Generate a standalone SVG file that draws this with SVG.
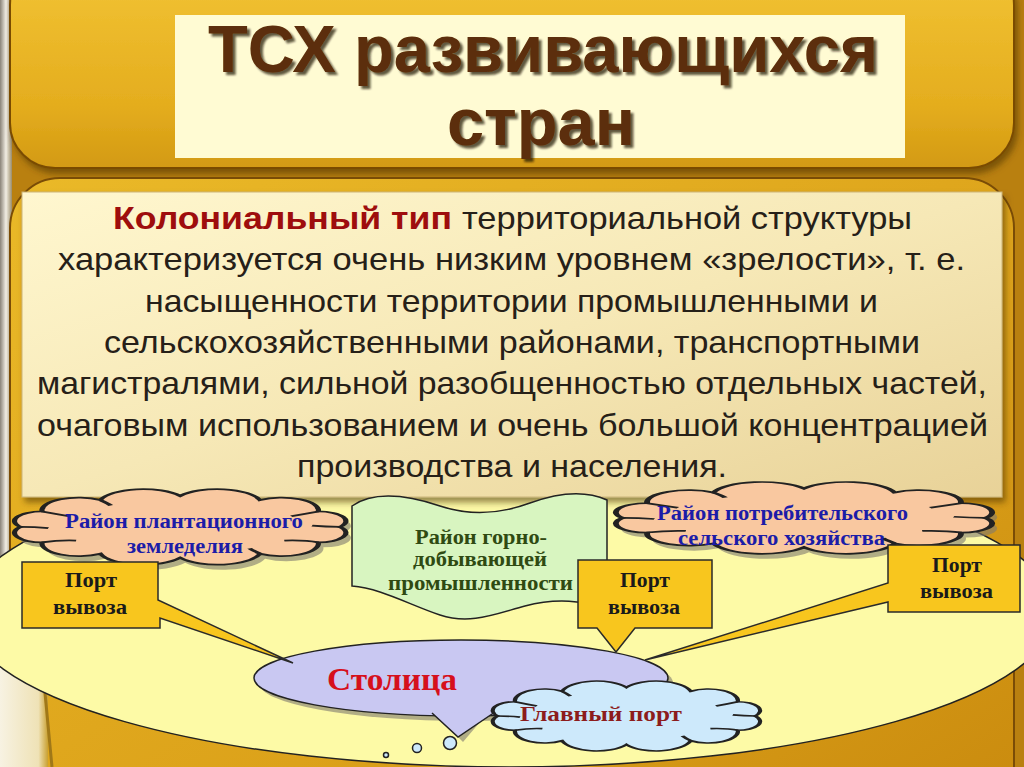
<svg xmlns="http://www.w3.org/2000/svg" xmlns:xlink="http://www.w3.org/1999/xlink" width="1024" height="767" viewBox="0 0 1024 767">
<defs>
<style>
.title{font-family:"Liberation Sans Narrow","Liberation Sans",Arial,sans-serif;font-weight:bold;font-size:66px}
.body{font-family:"Liberation Sans Narrow","Liberation Sans",Arial,sans-serif;font-size:32px;fill:#262018}
.ser{font-family:"Liberation Serif","Times New Roman",serif;font-weight:bold}
.blue{fill:#1c1ca8;font-size:20px}
.grn{fill:#2f4a12;font-size:20px}
.blk{fill:#1a1a1a;font-size:20px}
.ln{stroke:#222;stroke-width:1.5}
.cloudline{fill:none;stroke:#222;stroke-width:1.5;vector-effect:non-scaling-stroke}
.shadow{fill:#7f7a70;opacity:0.6}
.callout{fill:#f8c61e;stroke:#2a2a2a;stroke-width:1.5;stroke-linejoin:miter}
</style>
<linearGradient id="gold" x1="0" y1="0" x2="0" y2="1">
<stop offset="0" stop-color="#f3c536"/><stop offset="0.7" stop-color="#e4ad1e"/><stop offset="1" stop-color="#d39a12"/>
</linearGradient>
<linearGradient id="gold2" x1="0" y1="0" x2="1" y2="1">
<stop offset="0" stop-color="#eab928"/><stop offset="0.6" stop-color="#dca21a"/><stop offset="1" stop-color="#c98a0e"/>
</linearGradient>
<linearGradient id="metal" x1="0" y1="0" x2="1" y2="0">
<stop offset="0" stop-color="#8a8378"/><stop offset="0.5" stop-color="#f2eee4"/><stop offset="1" stop-color="#9a8c6a"/>
</linearGradient>
<linearGradient id="pale" x1="0" y1="0" x2="1" y2="0">
<stop offset="0" stop-color="#f7f2e2"/><stop offset="0.8" stop-color="#efe2b6"/><stop offset="1" stop-color="#c9a030"/>
</linearGradient>
<linearGradient id="box" x1="0" y1="0" x2="1" y2="1">
<stop offset="0" stop-color="#fff7cf"/><stop offset="0.5" stop-color="#f6e8b6"/><stop offset="1" stop-color="#e8d298"/>
</linearGradient>
<filter id="sh" x="-5%" y="-5%" width="110%" height="115%">
<feDropShadow dx="3" dy="5" stdDeviation="3" flood-color="#4a3000" flood-opacity="0.55"/>
</filter>
<filter id="tsh" x="-5%" y="-10%" width="110%" height="130%">
<feDropShadow dx="3" dy="3" stdDeviation="1.2" flood-color="#1e1000" flood-opacity="0.7"/>
</filter>
<path id="cloud" d="M4,30 A8,8 0 0 1 10.2,17 A10.6,10.6 0 0 1 27,7.5 A12.8,12.8 0 0 1 50,4 A12.8,12.8 0 0 1 73,7.5 A10.6,10.6 0 0 1 89.8,17 A8,8 0 0 1 96,30 A8,8 0 0 1 89.8,43 A10.6,10.6 0 0 1 73,52.5 A12.8,12.8 0 0 1 50,56 A12.8,12.8 0 0 1 27,52.5 A10.6,10.6 0 0 1 10.2,43 A8,8 0 0 1 4,30 Z"/>
<path id="cloudin" d="M10.2,17 Q14,19 18,21 M89.8,17 Q86,19 82,21 M89.8,43 Q86,41 80,41.5 M10.2,43 Q15,41 20,41.5 M27,7.5 Q29,10 30,12 M73,52.5 Q71,50 70,48 M4,30 Q8,30 12,31 M96,30 Q92,30 88,29"/>
</defs>

<g id="background">
<rect x="0" y="0" width="1024" height="767" fill="#b98010"/>
<rect x="0" y="0" width="12" height="767" fill="url(#metal)"/>
<rect x="10" y="-40" width="1004" height="208" rx="45" fill="url(#gold)" stroke="#7a4c06" stroke-width="2" filter="url(#sh)"/>
<rect x="175" y="15" width="730" height="143" fill="#fffbd3"/>
<rect x="10" y="178" width="1004" height="640" rx="50" fill="url(#gold2)" stroke="#7a4c06" stroke-width="2"/>
<rect x="0" y="560" width="48" height="207" fill="url(#pale)"/>
<path d="M40,640 L52,767" stroke="#a07818" stroke-width="3" fill="none"/>
</g>

<g id="title">
<text class="title" x="208" y="72" textLength="670" lengthAdjust="spacingAndGlyphs" fill="#5c2d08" filter="url(#tsh)">ТСХ развивающихся</text>
<text class="title" x="447" y="145" textLength="188" lengthAdjust="spacingAndGlyphs" fill="#5c2d08" filter="url(#tsh)">стран</text>
</g>

<g id="region">
<ellipse cx="510" cy="612" rx="545" ry="155" fill="#fdfaa6" class="ln"/>
</g>

<g id="description">
<rect x="22" y="192" width="980" height="305" fill="url(#box)" stroke="#cbb478" stroke-width="1" filter="url(#sh)"/>
<text class="body" x="113" y="229" textLength="339" lengthAdjust="spacingAndGlyphs" font-weight="bold" style="fill:#9e0d0d">Колониальный тип</text>
<text class="body" x="462" y="229" textLength="450" lengthAdjust="spacingAndGlyphs">территориальной структуры</text>
<text class="body" x="58" y="270" textLength="907" lengthAdjust="spacingAndGlyphs">характеризуется очень низким уровнем «зрелости», т. е.</text>
<text class="body" x="145" y="312" textLength="733" lengthAdjust="spacingAndGlyphs">насыщенности территории промышленными и</text>
<text class="body" x="104" y="353" textLength="816" lengthAdjust="spacingAndGlyphs">сельскохозяйственными районами, транспортными</text>
<text class="body" x="37" y="394" textLength="950" lengthAdjust="spacingAndGlyphs">магистралями, сильной разобщенностью отдельных частей,</text>
<text class="body" x="37" y="436" textLength="951" lengthAdjust="spacingAndGlyphs">очаговым использованием и очень большой концентрацией</text>
<text class="body" x="297" y="477" textLength="430" lengthAdjust="spacingAndGlyphs">производства и населения.</text>
</g>

<g id="plantation">
<use xlink:href="#cloud" transform="translate(11.7,496.2) scale(3.47,1.19)" class="shadow"/>
<use xlink:href="#cloud" transform="translate(6.7,491.2) scale(3.47,1.19)" class="cloudline" style="fill:#f9c8a0"/>
<use xlink:href="#cloudin" transform="translate(6.7,491.2) scale(3.47,1.19)" class="cloudline"/>
<text class="ser blue" x="65" y="528" textLength="238" lengthAdjust="spacingAndGlyphs">Район плантационного</text>
<text class="ser blue" x="127" y="553" textLength="116" lengthAdjust="spacingAndGlyphs">земледелия</text>
</g>

<g id="consumer">
<use xlink:href="#cloud" transform="translate(612,489) scale(3.94,1.13)" class="shadow"/>
<use xlink:href="#cloud" transform="translate(607,484) scale(3.94,1.13)" class="cloudline" style="fill:#f9c8a0"/>
<use xlink:href="#cloudin" transform="translate(607,484) scale(3.94,1.13)" class="cloudline"/>
<text class="ser blue" x="657" y="520" textLength="251" lengthAdjust="spacingAndGlyphs">Район потребительского</text>
<text class="ser blue" x="678" y="545" textLength="207" lengthAdjust="spacingAndGlyphs">сельского хозяйства</text>
</g>

<g id="mining">
<path d="M352,506 C375,490 410,496 440,506 S500,514 530,503 S585,490 607,500 L607,610 C585,600 555,598 525,606 S470,625 440,615 S380,588 352,586 Z" fill="#d8f5c0" class="ln"/>
<text class="ser grn" x="415" y="544" textLength="132" lengthAdjust="spacingAndGlyphs">Район горно-</text>
<text class="ser grn" x="413" y="566" textLength="134" lengthAdjust="spacingAndGlyphs">добывающей</text>
<text class="ser grn" x="388" y="590" textLength="185" lengthAdjust="spacingAndGlyphs">промышленности</text>
</g>

<g id="capital">
<ellipse cx="466" cy="683" rx="207" ry="38" class="shadow"/>
<path d="M441,720 L463,742 L480,722 Z" class="shadow"/>
<ellipse cx="461" cy="678" rx="207" ry="38" fill="#c9c8f2" class="ln"/>
<path d="M432,713 L458,737 L495,712" fill="#c9c8f2" class="ln"/>
<text class="ser" x="327" y="690" textLength="130" lengthAdjust="spacingAndGlyphs" font-size="31" fill="#d6101c">Столица</text>
</g>

<g id="connectors">
<path class="callout" d="M22,562 H158 V600 L293,663 L160,618 V628 H22 Z"/>
<path class="callout" d="M578,560 H712 V628 H635 L616,652 L597,628 H578 Z"/>
<path class="callout" d="M888,545 H1020 V612 H888 V602 L645,660 L888,583 Z"/>
</g>

<g id="port1">
<text class="ser blk" x="65" y="587" textLength="52" lengthAdjust="spacingAndGlyphs">Порт</text>
<text class="ser blk" x="53" y="614" textLength="74" lengthAdjust="spacingAndGlyphs">вывоза</text>
</g>
<g id="port2">
<text class="ser blk" x="620" y="587" textLength="50" lengthAdjust="spacingAndGlyphs">Порт</text>
<text class="ser blk" x="608" y="614" textLength="72" lengthAdjust="spacingAndGlyphs">вывоза</text>
</g>
<g id="port3">
<text class="ser blk" x="932" y="572" textLength="50" lengthAdjust="spacingAndGlyphs">Порт</text>
<text class="ser blk" x="920" y="598" textLength="73" lengthAdjust="spacingAndGlyphs">вывоза</text>
</g>

<g id="mainport">
<use xlink:href="#cloud" transform="translate(486.4,683) scale(2.8,1.1)" class="cloudline" style="fill:#cde9fb"/>
<use xlink:href="#cloudin" transform="translate(486.4,683) scale(2.8,1.1)" class="cloudline"/>
<circle cx="450" cy="743" r="6.5" fill="#cde9fb" class="ln"/>
<circle cx="417" cy="748" r="4.5" fill="#cde9fb" class="ln"/>
<circle cx="386" cy="755" r="2.5" fill="#cde9fb" class="ln"/>
<text class="ser" x="520" y="721" textLength="162" lengthAdjust="spacingAndGlyphs" font-size="22" fill="#8c1c1c">Главный порт</text>
</g>
</svg>
